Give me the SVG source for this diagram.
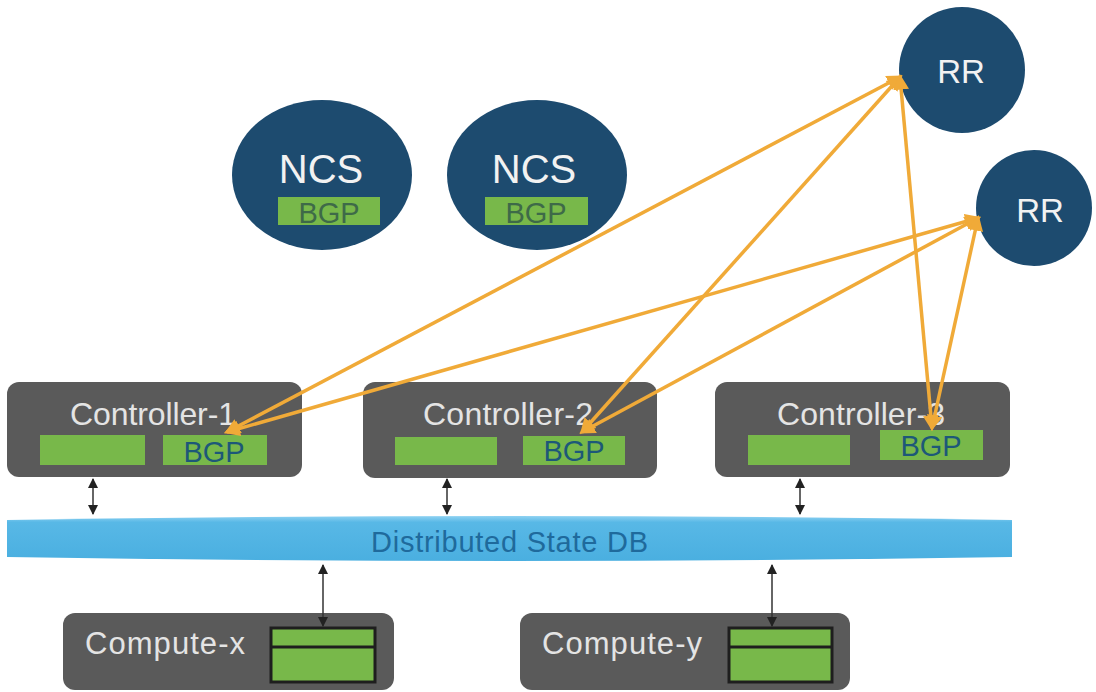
<svg xmlns="http://www.w3.org/2000/svg" width="1096" height="692" viewBox="0 0 1096 692">
<style>
.bg{fill:#ffffff}
.dark{fill:#1d4b6f}
.box{fill:#5a5a5a}
.grn{fill:#78b84a}
.ttl{font-family:"Liberation Sans",Arial,sans-serif;fill:#e4e4e4}
.wt{font-family:"Liberation Sans",Arial,sans-serif;fill:#f2f2f2;text-anchor:middle}
.bgpc{font-family:"Liberation Sans",Arial,sans-serif;fill:#1d5878;text-anchor:middle;font-size:29px}
.bgpn{font-family:"Liberation Sans",Arial,sans-serif;fill:#3e6a48;text-anchor:middle;font-size:29px}
.or{stroke:#f0aa38;stroke-width:3.5;fill:none;marker-start:url(#oa);marker-end:url(#oa)}
.bk{stroke:#333333;stroke-width:1.5;fill:none;marker-start:url(#ba);marker-end:url(#ba)}
.stk{fill:#78b84a;stroke:#1e1e1e;stroke-width:3}
</style>
<defs>
<marker id="oa" viewBox="0 0 10 10" refX="8" refY="5" markerWidth="4.5" markerHeight="4.5" orient="auto-start-reverse" markerUnits="strokeWidth">
<path d="M0,0 L10,5 L0,10 Z" fill="#f0aa38"/>
</marker>
<marker id="ba" viewBox="0 0 10 10" refX="9" refY="5" markerWidth="7" markerHeight="7" orient="auto-start-reverse" markerUnits="strokeWidth">
<path d="M0,0 L10,5 L0,10 Z" fill="#222222"/>
</marker>
<linearGradient id="db" x1="0" y1="0" x2="0" y2="1">
<stop offset="0" stop-color="#8fd2f2"/>
<stop offset="0.14" stop-color="#58b8e6"/>
<stop offset="1" stop-color="#4aafe0"/>
</linearGradient>
</defs>
<rect class="bg" x="0" y="0" width="1096" height="692"/>

<g id="ncs1">
<ellipse class="dark" cx="322" cy="175" rx="90" ry="75"/>
<text class="wt" x="321" y="183" font-size="40">NCS</text>
<rect class="grn" x="278" y="197" width="102" height="28"/>
<text class="bgpn" x="329" y="223">BGP</text>
</g>
<g id="ncs2">
<ellipse class="dark" cx="537" cy="175" rx="90" ry="75"/>
<text class="wt" x="534" y="183" font-size="40">NCS</text>
<rect class="grn" x="485" y="197" width="103" height="28"/>
<text class="bgpn" x="536" y="223">BGP</text>
</g>
<g id="rr1">
<circle class="dark" cx="962" cy="70" r="63"/>
<text class="wt" x="961" y="83" font-size="33">RR</text>
</g>
<g id="rr2">
<circle class="dark" cx="1034" cy="208" r="58"/>
<text class="wt" x="1040" y="222" font-size="33">RR</text>
</g>

<g id="controller1">
<rect class="box" x="7" y="382" width="295" height="95" rx="12"/>
<text class="ttl" x="70" y="425" font-size="32" textLength="166" lengthAdjust="spacing">Controller-1</text>
<rect class="grn" x="40" y="435" width="105" height="30"/>
<rect class="grn" x="163" y="435" width="104" height="30"/>
<text class="bgpc" x="214" y="462">BGP</text>
</g>
<g id="controller2">
<rect class="box" x="363" y="382" width="294" height="96" rx="12"/>
<text class="ttl" x="423" y="425" font-size="32" textLength="170" lengthAdjust="spacing">Controller-2</text>
<rect class="grn" x="395" y="437" width="102" height="28"/>
<rect class="grn" x="523" y="436" width="102" height="29"/>
<text class="bgpc" x="574" y="461">BGP</text>
</g>
<g id="controller3">
<rect class="box" x="715" y="382" width="295" height="95" rx="12"/>
<text class="ttl" x="777" y="425" font-size="32" textLength="168" lengthAdjust="spacing">Controller-3</text>
<rect class="grn" x="748" y="435" width="102" height="30"/>
<rect class="grn" x="880" y="430" width="103" height="30"/>
<text class="bgpc" x="931" y="456">BGP</text>
</g>

<g id="db">
<path d="M7,520 Q510,512 1012,520 L1012,557 Q510,565 7,557 Z" fill="url(#db)"/>
<text x="371" y="552" font-family="'Liberation Sans',Arial,sans-serif" font-size="29" fill="#1f6a9c" textLength="277" lengthAdjust="spacing">Distributed State DB</text>
</g>

<g id="computex">
<rect class="box" x="63" y="613" width="331" height="77" rx="12"/>
<text class="ttl" x="85" y="654" font-size="31" textLength="160" lengthAdjust="spacing">Compute-x</text>
<rect class="stk" x="271" y="628" width="104" height="54"/>
<line x1="271" y1="647" x2="375" y2="647" stroke="#1e1e1e" stroke-width="3"/>
</g>
<g id="computey">
<rect class="box" x="520" y="613" width="330" height="77" rx="12"/>
<text class="ttl" x="542" y="654" font-size="31" textLength="160" lengthAdjust="spacing">Compute-y</text>
<rect class="stk" x="729" y="628" width="103" height="54"/>
<line x1="729" y1="647" x2="832" y2="647" stroke="#1e1e1e" stroke-width="3"/>
</g>

<g id="connectors">
<line class="or" x1="227" y1="432" x2="900" y2="77"/>
<line class="or" x1="227" y1="432" x2="978" y2="218"/>
<line class="or" x1="582" y1="432" x2="900" y2="77"/>
<line class="or" x1="582" y1="432" x2="978" y2="218"/>
<line class="or" x1="932" y1="428" x2="900" y2="77"/>
<line class="or" x1="932" y1="428" x2="978" y2="218"/>
<line class="bk" x1="93" y1="479" x2="93" y2="514"/>
<line class="bk" x1="447" y1="479" x2="447" y2="514"/>
<line class="bk" x1="800" y1="479" x2="800" y2="514"/>
<line class="bk" x1="323" y1="565" x2="323" y2="626"/>
<line class="bk" x1="772" y1="565" x2="772" y2="626"/>
</g>
</svg>
